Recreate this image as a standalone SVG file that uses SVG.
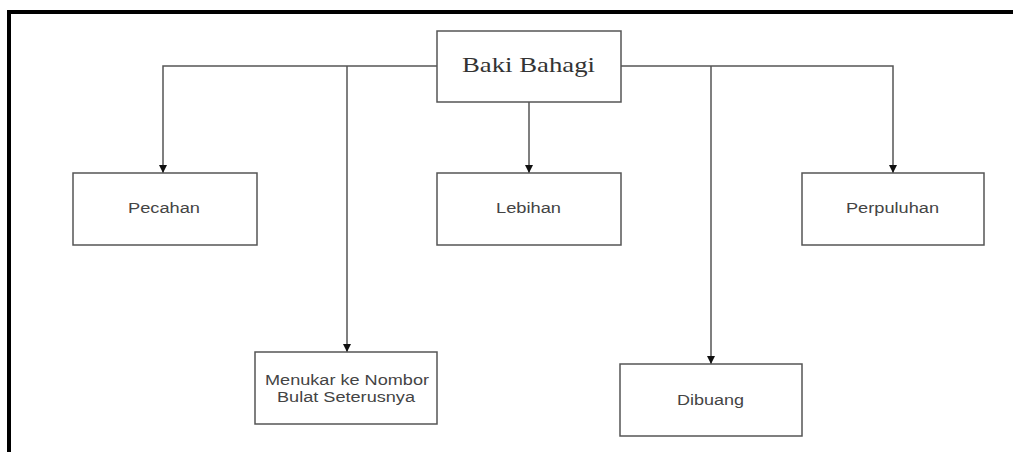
<svg xmlns="http://www.w3.org/2000/svg" width="1013" height="452" viewBox="0 0 1013 452">
<defs>
<style>
.box{fill:#fff;stroke:#555;stroke-width:1.5}
.lbl{font-family:"Liberation Sans",Arial,sans-serif;font-size:14px;fill:#444;text-anchor:middle}
.title{font-family:"Liberation Serif","Times New Roman",serif;font-size:21px;fill:#333;text-anchor:middle}
.conn{fill:none;stroke:#555;stroke-width:1.5}
</style>
<marker id="arr" viewBox="0 0 10 10" refX="10" refY="5" markerWidth="8" markerHeight="8" markerUnits="userSpaceOnUse" orient="auto">
<path d="M0,0 L10,5 L0,10 Z" fill="#111"/>
</marker>
</defs>
<rect width="1013" height="452" fill="#fff"/>
<path d="M9,452 V12 H1013" fill="none" stroke="#000" stroke-width="4"/>
<g id="connectors">
<path class="conn" d="M437,66 H163 V173" marker-end="url(#arr)"/>
<path class="conn" d="M347,66 V352" marker-end="url(#arr)"/>
<path class="conn" d="M529,102 V173" marker-end="url(#arr)"/>
<path class="conn" d="M621,66 H893 V173" marker-end="url(#arr)"/>
<path class="conn" d="M711,66 V364" marker-end="url(#arr)"/>
</g>
<g id="baki-bahagi">
<rect class="box" x="437" y="31" width="184" height="71"/>
<text class="title" x="528.5" y="72" textLength="133" lengthAdjust="spacingAndGlyphs">Baki Bahagi</text>
</g>
<g id="pecahan">
<rect class="box" x="73" y="173" width="184" height="72"/>
<text class="lbl" x="164" y="213" textLength="72" lengthAdjust="spacingAndGlyphs">Pecahan</text>
</g>
<g id="lebihan">
<rect class="box" x="437" y="173" width="184" height="72"/>
<text class="lbl" x="528.5" y="213" textLength="65" lengthAdjust="spacingAndGlyphs">Lebihan</text>
</g>
<g id="perpuluhan">
<rect class="box" x="802" y="173" width="182" height="72"/>
<text class="lbl" x="892.5" y="213" textLength="93" lengthAdjust="spacingAndGlyphs">Perpuluhan</text>
</g>
<g id="menukar">
<rect class="box" x="255" y="352" width="182" height="72"/>
<text class="lbl" x="347" y="385" textLength="164" lengthAdjust="spacingAndGlyphs">Menukar ke Nombor</text>
<text class="lbl" x="346" y="402" textLength="138" lengthAdjust="spacingAndGlyphs">Bulat Seterusnya</text>
</g>
<g id="dibuang">
<rect class="box" x="620" y="364" width="182" height="72"/>
<text class="lbl" x="710.5" y="405" textLength="67" lengthAdjust="spacingAndGlyphs">Dibuang</text>
</g>
</svg>
